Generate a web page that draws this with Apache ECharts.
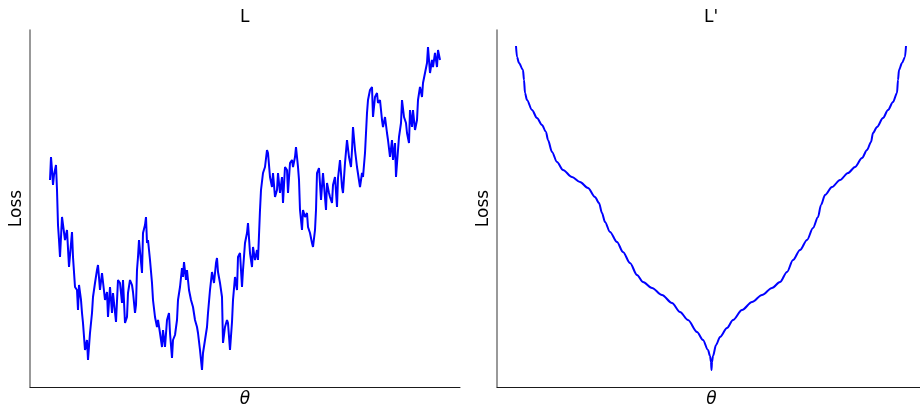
<!DOCTYPE html>
<html>
<head>
<meta charset="utf-8">
<script src="https://cdn.jsdelivr.net/npm/echarts@6/dist/echarts.min.js"></script>
<style>html,body{margin:0;padding:0;background:#fff}#c{width:920px;height:407px}</style>
</head>
<body>
<div id="c"></div>
<script>
// Left panel L: theta (arbitrary units) and loss values
const thetaL = [
  0,1,2,3,4,5,6,7,8,9,
  10,12,13,15,17,19,22,23,25,27,
  28,29,31,32,33,35,37,38,40,42,
  43,45,47,48,50,52,53,55,57,58,
  60,62,63,66,68,70,72,73,75,77,
  78,80,82,83,85,86,87,88,89,92,
  93,95,96,97,98,100,102,103,105,107,
  108,110,112,113,115,117,119,120,122,123,
  125,127,128,130,132,133,134,136,137,139,
  141,143,145,147,148,150,152,153,155,157,
  158,160,162,164,166,167,168,170,172,173,
  175,177,178,180,182,183,185,187,188,190,
  192,193,195,197,198,200,202,203,205,207,
  208,210,211,213,215,217,218,220,222,223,
  225,227,228,230,232,233,235,237,238,240,
  242,243,245,246,248,249,250,252,253,255,
  257,258,260,262,263,265,266,267,269,271,
  273,274,276,277,279,280,282,283,285,287,
  288,290,292,293,295,297,299,301,302,303,
  305,307,308,310,312,313,315,317,318,320,
  322,323,325,327,328,330,332,333,335,337,
  338,340,342,343,345,346,348,349,351,352,
  354,356,357,359,360,362,363,365,367,368,
  370,372,373,375,377,378,380,382,383,385,
  387,388,390];
const lossL = [
  207,230,217,202,212,214,222,197,162,147,
  130,170,172,147,157,120,155,130,100,97,
  77,102,87,74,64,37,47,27,54,74,
  90,104,117,122,97,114,115,87,95,70,
  100,74,94,65,107,104,84,107,64,70,
  94,107,102,95,74,82,117,130,147,114,
  154,162,170,144,147,127,104,87,70,60,
  67,54,40,57,40,67,74,54,29,47,
  52,67,87,100,119,110,125,107,117,97,
  87,80,67,60,54,37,17,34,47,60,
  74,97,115,104,124,129,115,104,90,44,
  60,67,64,37,65,87,110,97,130,134,
  100,117,144,154,164,134,120,140,127,137,
  127,177,197,214,220,237,234,210,200,214,
  190,197,214,194,210,184,220,217,194,224,
  227,220,230,240,220,207,177,157,177,170,
  174,160,154,144,140,157,177,214,219,187,
  214,214,177,204,194,190,184,202,210,180,
  209,227,200,194,224,247,230,220,237,260,
  237,220,220,200,214,210,234,274,287,297,
  300,270,290,294,284,287,267,260,270,254,
  247,230,247,227,244,210,237,250,264,287,
  270,264,254,244,277,260,277,257,267,287,
  300,290,304,314,324,340,314,327,320,334,
  320,337,327];
// Right panel L': theta and loss values
const thetaR = [
  0,1,3,7,8,9,11,16,21,26,
  30,32,36,41,47,56,64,72,79,83,
  86,89,94,101,107,114,121,127,136,146,
  156,164,172,181,187,192,194,195,195.5,196,
  197,200,204,211,217,226,236,246,256,264,
  271,277,284,291,297,302,305,309,316,324,
  332,339,346,351,355,357,361,367,372,377,
  381,382,383,386,389,390];
const lossR = [
  341,330,324,317,307,294,287,277,269,262,
  255,247,235,225,217,210,205,199,190,184,
  174,165,155,145,135,124,112,105,99,92,
  84,75,67,55,47,37,31,25,17,25,
  31,42,50,59,67,77,85,92,99,105,
  115,127,137,147,159,170,182,192,200,207,
  214,220,229,237,245,254,260,269,277,285,
  294,307,317,324,330,341];

const pairsL = thetaL.map((t, i) => [t, lossL[i]]);
const pairsR = thetaR.map((t, i) => [t, lossR[i]]);

const FONT = 'DejaVu Sans';
const hiddenBits = {
  axisTick: {show: false},
  axisLabel: {show: false},
  splitLine: {show: false}
};
const xName = {name: 'θ', nameLocation: 'middle', nameGap: 4,
  nameTextStyle: {fontFamily: FONT, fontSize: 17, fontStyle: 'italic', color: '#000'}};
const yName = {name: 'Loss', nameLocation: 'middle', nameGap: 5, nameRotate: 90,
  nameTextStyle: {fontFamily: FONT, fontSize: 17, color: '#000'}};

const chart = echarts.init(document.getElementById('c'), null, {renderer: 'canvas'});
chart.setOption({
  animation: false,
  backgroundColor: '#ffffff',
  title: [
    {text: 'L', left: 240, top: 9, padding: 0,
     textStyle: {fontFamily: FONT, fontSize: 17, fontWeight: 'normal', color: '#000'}},
    {text: "L'", left: 704, top: 9, padding: 0,
     textStyle: {fontFamily: FONT, fontSize: 17, fontWeight: 'normal', color: '#000'}}
  ],
  grid: [
    {left: 30, top: 30, width: 430, height: 357, containLabel: false, outerBoundsMode: 'none'},
    {left: 497, top: 30, width: 429, height: 357, containLabel: false, outerBoundsMode: 'none'}
  ],
  xAxis: [
    Object.assign({type: 'value', gridIndex: 0, min: -20, max: 410,
      axisLine: {onZero: false, lineStyle: {color: '#1a1a1a', width: 1}}}, xName, hiddenBits),
    Object.assign({type: 'value', gridIndex: 1, min: -19, max: 410,
      axisLine: {onZero: false, lineStyle: {color: '#1a1a1a', width: 1}}}, xName, hiddenBits)
  ],
  yAxis: [
    Object.assign({type: 'value', gridIndex: 0, min: 0, max: 357,
      axisLine: {onZero: false, lineStyle: {color: '#777', width: 1.5}}}, yName, hiddenBits),
    Object.assign({type: 'value', gridIndex: 1, min: 0, max: 357,
      axisLine: {onZero: false, lineStyle: {color: '#777', width: 1.5}}}, yName, hiddenBits)
  ],
  series: [
    {type: 'line', xAxisIndex: 0, yAxisIndex: 0, data: pairsL, showSymbol: false,
     lineStyle: {color: '#0000ff', width: 2}, itemStyle: {color: '#0000ff'}},
    {type: 'line', xAxisIndex: 1, yAxisIndex: 1, data: pairsR, showSymbol: false,
     smooth: 0.3, smoothMonotone: 'x',
     lineStyle: {color: '#0000ff', width: 2}, itemStyle: {color: '#0000ff'}}
  ]
});
</script>
</body>
</html>
